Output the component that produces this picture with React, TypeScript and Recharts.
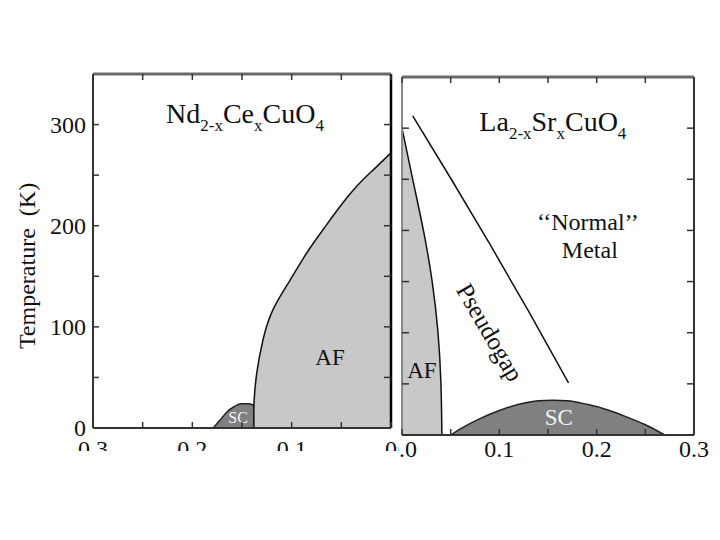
import React from 'react';
import { ComposedChart, Area, Line, XAxis, YAxis, ReferenceDot } from 'recharts';

// ---------- data ----------
// Nd2-xCexCuO4 (left panel, x axis reversed)
const ndAfX = [0.138, 0.1379, 0.1352, 0.1289, 0.1188, 0.1017, 0.0849, 0.0685, 0.0513, 0.0345, 0.0181, 0];
const ndAfT = [0, 25, 54, 87, 117, 146, 173, 196, 219, 239, 255, 272];
const ndScX = [0.179, 0.172, 0.165, 0.158, 0.151, 0.144, 0.1395, 0.1382, 0.1381];
const ndScT = [0, 8, 16, 21, 24, 24, 23, 22, 0];

// La2-xSrxCuO4 (right panel)
const lsAfX = [0, 0.011, 0.022, 0.031, 0.037, 0.040, 0.041];
const lsAfT = [300, 250, 200, 150, 100, 50, 0];
const lsScX = [0.05, 0.06, 0.08, 0.10, 0.12, 0.14, 0.155, 0.17, 0.19, 0.21, 0.23, 0.25, 0.27];
const lsScT = [0, 6, 16, 24, 30, 33.5, 34, 33.5, 30, 25, 18, 10, 0];
const pgX = [0.011, 0.05, 0.09, 0.13, 0.171];
const pgT = [312, 251, 187, 121, 51];

const xTicks = [0, 0.05, 0.1, 0.15, 0.2, 0.25, 0.3];
const yTicks = [0, 50, 100, 150, 200, 250, 300];
const yLabelTicks = [0, 100, 200, 300];
const leftXLabelTicks = [0, 0.1, 0.2, 0.3];
const leftXLabels = ['0', '0.1', '0.2', '0.3'];
const rightXLabelTicks = [0, 0.1, 0.2, 0.3];
const rightXLabels = ['0.0', '0.1', '0.2', '0.3'];

const zip = (xs: number[], ts: number[]) => xs.map((x, i) => ({ x, t: ts[i] }));

const ndAf = zip(ndAfX, ndAfT);
const ndSc = zip(ndScX, ndScT);
const lsAf = zip(lsAfX, lsAfT);
const lsSc = zip(lsScX, lsScT);
const pg = zip(pgX, pgT);

// ---------- styles ----------
const FONT = '"Liberation Serif", "Times New Roman", serif';
const FRAME = '#6a6a6a';
const AF_FILL = '#c8c8c8';
const SC_FILL = '#808080';
const TICK_FS = 24;

const findLabel = (v: number, ticks: number[], labels: string[]) => {
  const i = ticks.findIndex((t) => Math.abs(t - v) < 1e-9);
  return i >= 0 ? labels[i] : null;
};

const makeBottomTick = (ticks: number[], labels: string[], dy: number) => (props: any) => {
  const { x, y, payload } = props;
  const lab = findLabel(payload.value, ticks, labels);
  return (
    <g>
      <line x1={x} y1={y} x2={x} y2={y - 6} stroke="#333" strokeWidth={1.5} />
      {lab !== null && (
        <text x={x} y={y + dy} textAnchor="middle" fontFamily={FONT} fontSize={TICK_FS} fill="#111">
          {lab}
        </text>
      )}
    </g>
  );
};

const TopTick = (props: any) => {
  const { x, y } = props;
  return <line x1={x} y1={y} x2={x} y2={y + 6} stroke="#333" strokeWidth={1.5} />;
};

const LeftTickLabeled = (props: any) => {
  const { x, y, payload } = props;
  const lab = findLabel(payload.value, yLabelTicks, yLabelTicks.map(String));
  return (
    <g>
      <line x1={x} y1={y} x2={x + 6} y2={y} stroke="#333" strokeWidth={1.5} />
      {lab !== null && (
        <text x={x - 7} y={y + 8} textAnchor="end" fontFamily={FONT} fontSize={TICK_FS} fill="#111">
          {lab}
        </text>
      )}
    </g>
  );
};

const LeftTickPlain = (props: any) => {
  const { x, y } = props;
  return <line x1={x} y1={y} x2={x + 7} y2={y} stroke="#333" strokeWidth={1.5} />;
};

const RightTick = (props: any) => {
  const { x, y } = props;
  return <line x1={x} y1={y} x2={x - 7} y2={y} stroke="#333" strokeWidth={1.5} />;
};

const textShape = (
  content: React.ReactNode,
  size: number,
  color = '#111',
  extra: any = {}
) => (p: any) => (
  <text
    x={p.cx}
    y={p.cy}
    textAnchor="middle"
    fontFamily={FONT}
    fontSize={size}
    fill={color}
    {...extra}
  >
    {content}
  </text>
);

const rotatedShape = (content: string, size: number, angle: number) => (p: any) => (
  <text
    x={p.cx}
    y={p.cy}
    textAnchor="middle"
    dominantBaseline="central"
    fontFamily={FONT}
    fontSize={size}
    fill="#111"
    transform={`rotate(${angle} ${p.cx} ${p.cy})`}
  >
    {content}
  </text>
);

const formula = (parts: [string, string][]) => (
  <>
    {parts.map(([main, sub], i) => (
      <React.Fragment key={i}>
        <tspan fontSize={28} dy={i === 0 ? 0 : -8}>{main}</tspan>
        <tspan fontSize={17} dy={8}>
          {sub}
        </tspan>
      </React.Fragment>
    ))}
  </>
);

const ndTitle = formula([
  ['Nd', '2-x'],
  ['Ce', 'x'],
  ['CuO', '4'],
]);
const lsTitle = formula([
  ['La', '2-x'],
  ['Sr', 'x'],
  ['CuO', '4'],
]);

const YTitle = () => (
  <text
    x={27}
    y={266}
    textAnchor="middle"
    dominantBaseline="central"
    fontFamily={FONT}
    fontSize={24}
    fill="#111"
    transform="rotate(-90 27 266)"
    style={{ whiteSpace: 'pre' }}
  >
    {'Temperature\u00a0\u00a0(K)'}
  </text>
);

const LeftPanel = () => (
  <ComposedChart width={397} height={451} margin={{ top: 73, right: 5, bottom: 0, left: 0 }}>
    <XAxis
      xAxisId="b"
      type="number"
      dataKey="x"
      domain={[0, 0.3]}
      reversed
      ticks={xTicks}
      tick={makeBottomTick(leftXLabelTicks, leftXLabels, 29)}
      tickSize={0}
      tickMargin={0}
      tickLine={false}
      height={23}
      interval={0}
      allowDataOverflow
      axisLine={{ stroke: '#333', strokeWidth: 2 }}
    />
    <XAxis
      xAxisId="t"
      orientation="top"
      type="number"
      dataKey="x"
      domain={[0, 0.3]}
      reversed
      ticks={xTicks}
      tick={TopTick}
      tickSize={0}
      tickMargin={0}
      tickLine={false}
      height={1}
      interval={0}
      allowDataOverflow
      axisLine={{ stroke: FRAME, strokeWidth: 3 }}
    />
    <YAxis
      yAxisId="l"
      type="number"
      domain={[0, 350]}
      ticks={yTicks}
      tick={LeftTickLabeled}
      tickSize={0}
      tickMargin={0}
      tickLine={false}
      width={93}
      interval={0}
      allowDataOverflow
      axisLine={{ stroke: '#333', strokeWidth: 2 }}
      label={{ content: YTitle }}
    />
    <YAxis
      yAxisId="r"
      orientation="right"
      type="number"
      domain={[0, 350]}
      ticks={yTicks}
      tick={RightTick}
      tickSize={0}
      tickMargin={0}
      tickLine={false}
      width={1}
      interval={0}
      allowDataOverflow
      axisLine={{ stroke: '#000', strokeWidth: 2.5 }}
    />
    <Area
      xAxisId="b"
      yAxisId="l"
      data={ndSc}
      dataKey="t"
      type="monotone"
      fill={SC_FILL}
      fillOpacity={1}
      stroke="#222"
      strokeWidth={1.5}
      baseValue={0}
      isAnimationActive={false}
    />
    <Area
      xAxisId="b"
      yAxisId="l"
      data={ndAf}
      dataKey="t"
      type="natural"
      fill={AF_FILL}
      fillOpacity={1}
      stroke="#111"
      strokeWidth={1.5}
      baseValue={0}
      isAnimationActive={false}
    />
    <ReferenceDot xAxisId="b" yAxisId="l" x={0.147} y={302} r={0} shape={textShape(ndTitle, 28)} />
    <ReferenceDot xAxisId="b" yAxisId="l" x={0.0614} y={62} r={0} shape={textShape('AF', 23)} />
    <ReferenceDot xAxisId="b" yAxisId="l" x={0.154} y={5} r={0} shape={textShape('SC', 16, '#f2f2f2')} />
  </ComposedChart>
);

const RightPanel = () => (
  <ComposedChart width={322} height={470} margin={{ top: 76, right: 25, bottom: 0, left: 0 }}>
    <XAxis
      xAxisId="b"
      type="number"
      dataKey="x"
      domain={[0, 0.3]}
      ticks={xTicks}
      tick={makeBottomTick(rightXLabelTicks, rightXLabels, 22)}
      tickSize={0}
      tickMargin={0}
      tickLine={false}
      height={35}
      interval={0}
      allowDataOverflow
      axisLine={{ stroke: '#333', strokeWidth: 2 }}
    />
    <XAxis
      xAxisId="t"
      orientation="top"
      type="number"
      dataKey="x"
      domain={[0, 0.3]}
      ticks={xTicks}
      tick={TopTick}
      tickSize={0}
      tickMargin={0}
      tickLine={false}
      height={1}
      interval={0}
      allowDataOverflow
      axisLine={{ stroke: FRAME, strokeWidth: 3 }}
    />
    <YAxis
      yAxisId="l"
      type="number"
      domain={[0, 350]}
      ticks={yTicks}
      tick={LeftTickPlain}
      tickSize={0}
      tickMargin={0}
      tickLine={false}
      width={4}
      interval={0}
      allowDataOverflow
      axisLine={{ stroke: '#888', strokeWidth: 2 }}
    />
    <YAxis
      yAxisId="r"
      orientation="right"
      type="number"
      domain={[0, 350]}
      ticks={yTicks}
      tick={RightTick}
      tickSize={0}
      tickMargin={0}
      tickLine={false}
      width={1}
      interval={0}
      allowDataOverflow
      axisLine={{ stroke: '#333', strokeWidth: 2 }}
    />
    <Area
      xAxisId="b"
      yAxisId="l"
      data={lsAf}
      dataKey="t"
      type="natural"
      fill={AF_FILL}
      fillOpacity={1}
      stroke="#111"
      strokeWidth={1.5}
      baseValue={0}
      isAnimationActive={false}
    />
    <Area
      xAxisId="b"
      yAxisId="l"
      data={lsSc}
      dataKey="t"
      type="monotone"
      fill={SC_FILL}
      fillOpacity={1}
      stroke="#222"
      strokeWidth={1.5}
      baseValue={0}
      isAnimationActive={false}
    />
    <Line
      xAxisId="b"
      yAxisId="l"
      data={pg}
      dataKey="t"
      type="monotone"
      stroke="#111"
      strokeWidth={1.5}
      dot={false}
      isAnimationActive={false}
    />
    <ReferenceDot xAxisId="b" yAxisId="l" x={0.155} y={297} r={0} shape={textShape(lsTitle, 28)} />
    <ReferenceDot xAxisId="b" yAxisId="l" x={0.191} y={200} r={0} shape={textShape('\u2018\u2018Normal\u2019\u2019', 24)} />
    <ReferenceDot xAxisId="b" yAxisId="l" x={0.193} y={173.5} r={0} shape={textShape('Metal', 24)} />
    <ReferenceDot xAxisId="b" yAxisId="l" x={0.0904} y={100.4} r={0} shape={rotatedShape('Pseudogap', 25, 60)} />
    <ReferenceDot xAxisId="b" yAxisId="l" x={0.0205} y={55.6} r={0} shape={textShape('AF', 23)} />
    <ReferenceDot xAxisId="b" yAxisId="l" x={0.161} y={9.7} r={0} shape={textShape('SC', 23, '#f2f2f2')} />
  </ComposedChart>
);

export default function App() {
  return (
    <div style={{ position: 'fixed', left: 0, top: 0, width: 720, height: 540, background: '#fff' }}>
      <div style={{ position: 'absolute', left: 0, top: 0, width: 397, height: 451, overflow: 'hidden' }}>
        <LeftPanel />
      </div>
      <div style={{ position: 'absolute', left: 398, top: 0, width: 322, height: 470, overflow: 'hidden' }}>
        <RightPanel />
      </div>
    </div>
  );
}
